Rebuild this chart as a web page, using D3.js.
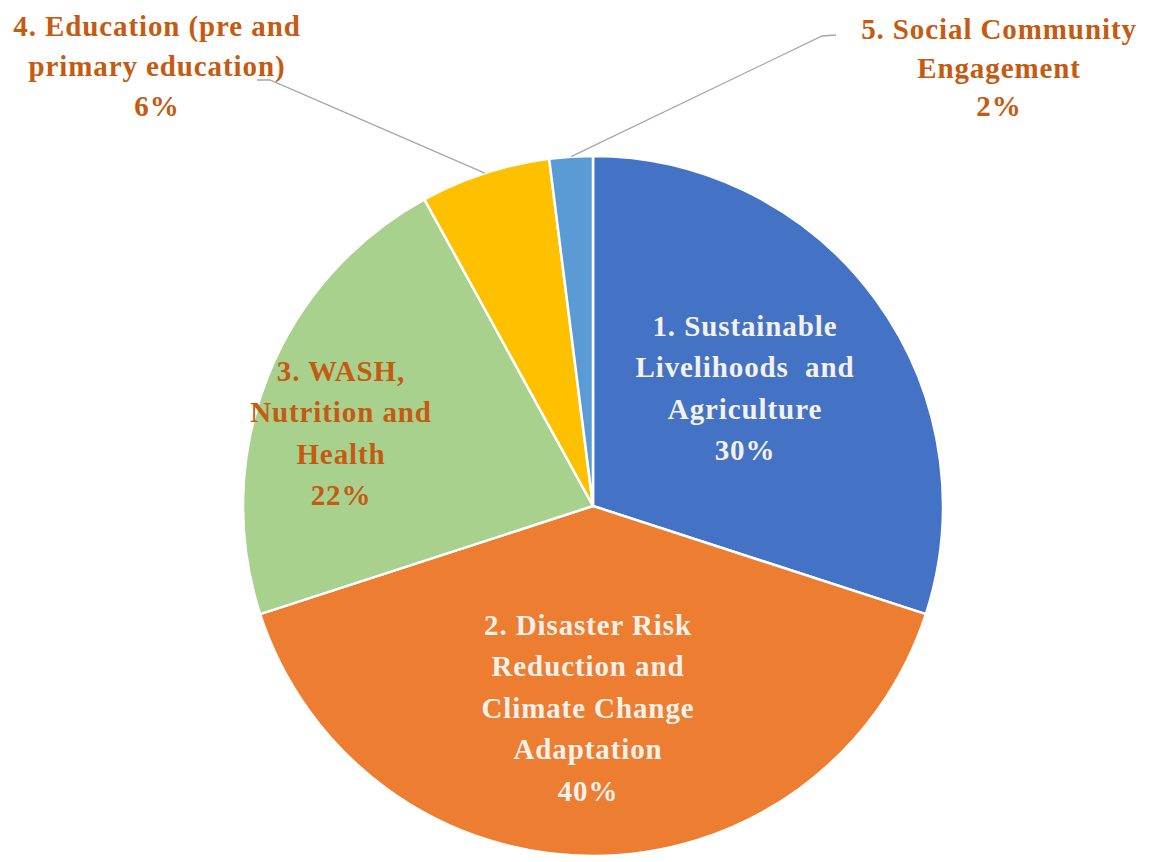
<!DOCTYPE html>
<html>
<head>
<meta charset="utf-8">
<script src="https://cdn.jsdelivr.net/npm/d3@7"></script>
<style>
  html, body { margin: 0; padding: 0; background: #ffffff; }
  svg { display: block; }
  text { font-family: "Palatino Linotype", "Book Antiqua", Palatino, "Liberation Serif", serif; font-weight: bold; }
</style>
</head>
<body>
<svg id="chart" width="1155" height="862"></svg>
<script>
// ---- Data ----
const categories = [
  "1. Sustainable Livelihoods and Agriculture",
  "2. Disaster Risk Reduction and Climate Change Adaptation",
  "3. WASH, Nutrition and Health",
  "4. Education (pre and primary education)",
  "5. Social Community Engagement"
];
const values = [30, 40, 22, 6, 2];
const labelLines = [
  ["1. Sustainable", "Livelihoods  and", "Agriculture"],
  ["2. Disaster Risk", "Reduction and", "Climate Change", "Adaptation"],
  ["3. WASH,", "Nutrition and", "Health"],
  ["4. Education (pre and", "primary education)"],
  ["5. Social Community", "Engagement"]
];
const percentLabels = ["30%", "40%", "22%", "6%", "2%"];

// ---- Style / layout ----
const colors = ["#4472C4", "#ED7D31", "#A9D18E", "#FFC000", "#5B9BD5"];
const labelColors = ["#F4F1EA", "#F4F1EA", "#C55A11", "#C55A11", "#C55A11"];
const cx = 593, cy = 506, R = 350;
const fontSize = 29, lineH = 41.5, letterSp = 0.9;
// label block centers (inside: relative to pie centre; outside: absolute)
const labelPos = [
  {x: 152, y: -118, rel: true, lh: 41.5},
  {x: -5, y: 202, rel: true, lh: 41.5},
  {x: -252, y: -73, rel: true, lh: 41.5},
  {x: 157, y: 66, rel: false, lh: 40},
  {x: 999, y: 68, rel: false, lh: 38.5}
];
// leader line elbows for outside labels
const leaderEnds = {3: [[270, 80], [257, 80]], 4: [[822, 36], [836, 35]]};

const svg = d3.select("#chart");
const g = svg.append("g").attr("transform", `translate(${cx},${cy})`);

const pie = d3.pie().sort(null).value(d => d)(values);
const arc = d3.arc().innerRadius(0).outerRadius(R);
const edgeArc = d3.arc().innerRadius(R).outerRadius(R);

g.selectAll("path.slice")
  .data(pie)
  .join("path")
  .attr("class", "slice")
  .attr("d", arc)
  .attr("fill", (d, i) => colors[i])
  .attr("stroke", "#ffffff")
  .attr("stroke-width", 2.5)
  .attr("stroke-linejoin", "round");

// leader lines
pie.forEach((d, i) => {
  if (!leaderEnds[i]) return;
  const c = edgeArc.centroid(d);
  const pts = [[cx + c[0], cy + c[1]], ...leaderEnds[i]];
  svg.append("path")
    .attr("d", d3.line()(pts))
    .attr("fill", "none")
    .attr("stroke", "#A6A6A6")
    .attr("stroke-width", 1.3);
});

// labels
pie.forEach((d, i) => {
  const lines = labelLines[i].concat([percentLabels[i]]);
  const p = labelPos[i];
  const x = p.rel ? cx + p.x : p.x;
  const y = p.rel ? cy + p.y : p.y;
  const n = lines.length;
  const t = svg.append("text")
    .attr("text-anchor", "middle")
    .attr("font-size", fontSize)
    .attr("letter-spacing", letterSp)
    .attr("fill", labelColors[i]);
  lines.forEach((ln, k) => {
    t.append("tspan")
      .attr("x", x)
      .attr("y", y + (k - (n - 1) / 2) * p.lh + fontSize * 0.34)
      .attr("xml:space", "preserve")
      .text(ln);
  });
});
</script>
</body>
</html>
